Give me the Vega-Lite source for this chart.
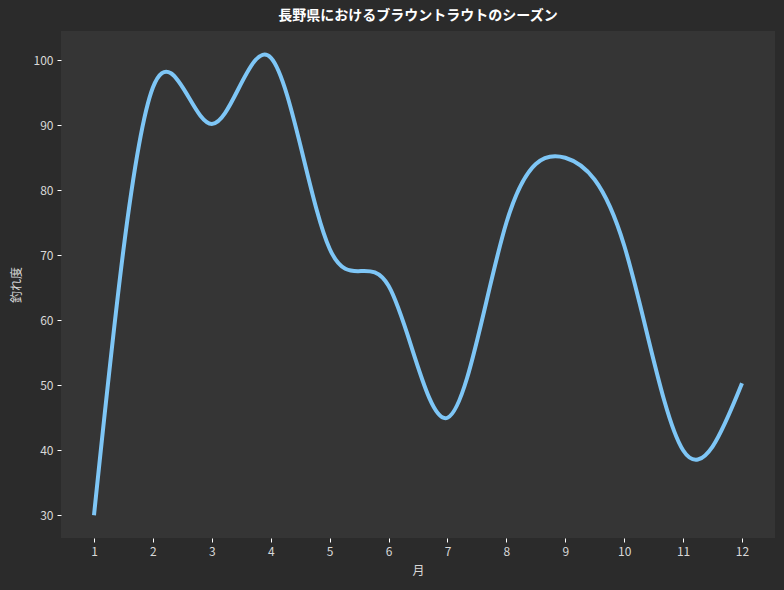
{
  "$schema": "https://vega.github.io/schema/vega-lite/v6.json",
  "autosize": {"type": "none"},
  "width": 714,
  "height": 507,
  "padding": {"left": 61, "top": 31, "right": 9, "bottom": 52},
  "background": "#2b2b2b",
  "title": {
    "text": "長野県におけるブラウントラウトのシーズン",
    "font": "Noto Sans CJK JP",
    "fontSize": 14,
    "fontWeight": "bold",
    "color": "#ffffff",
    "anchor": "middle",
    "offset": 8
  },
  "config": {
    "view": {"fill": "#353535", "stroke": null},
    "font": "Noto Sans CJK JP",
    "axis": {
      "grid": false,
      "domain": false,
      "tickColor": "#ffffff",
      "tickSize": 4,
      "tickWidth": 1,
      "labelColor": "#d8d8d8",
      "labelFontSize": 12,
      "labelFont": "Noto Sans CJK JP",
      "labelPadding": 4,
      "titleColor": "#d8d8d8",
      "titleFont": "Noto Sans CJK JP",
      "titleFontSize": 12,
      "titleFontWeight": "normal"
    }
  },
  "data": {
    "values": [
      {"month": 1, "score": 30},
      {"month": 2, "score": 95.8},
      {"month": 3, "score": 90.2},
      {"month": 4, "score": 100.4},
      {"month": 5, "score": 71},
      {"month": 6, "score": 65.3},
      {"month": 7, "score": 45},
      {"month": 8, "score": 75},
      {"month": 9, "score": 85},
      {"month": 10, "score": 71.5},
      {"month": 11, "score": 40},
      {"month": 12, "score": 50.3}
    ]
  },
  "mark": {"type": "line", "interpolate": "natural", "color": "#7ec6f6", "strokeWidth": 4, "clip": true},
  "encoding": {
    "x": {
      "field": "month",
      "type": "quantitative",
      "scale": {"domain": [0.44, 12.56], "nice": false, "zero": false},
      "axis": {"values": [1,2,3,4,5,6,7,8,9,10,11,12], "title": "月", "titlePadding": 8, "labelAngle": 0}
    },
    "y": {
      "field": "score",
      "type": "quantitative",
      "scale": {"domain": [26.5, 104.5], "nice": false, "zero": false},
      "axis": {"values": [30,40,50,60,70,80,90,100], "title": "釣れ度", "titlePadding": 10}
    }
  }
}
